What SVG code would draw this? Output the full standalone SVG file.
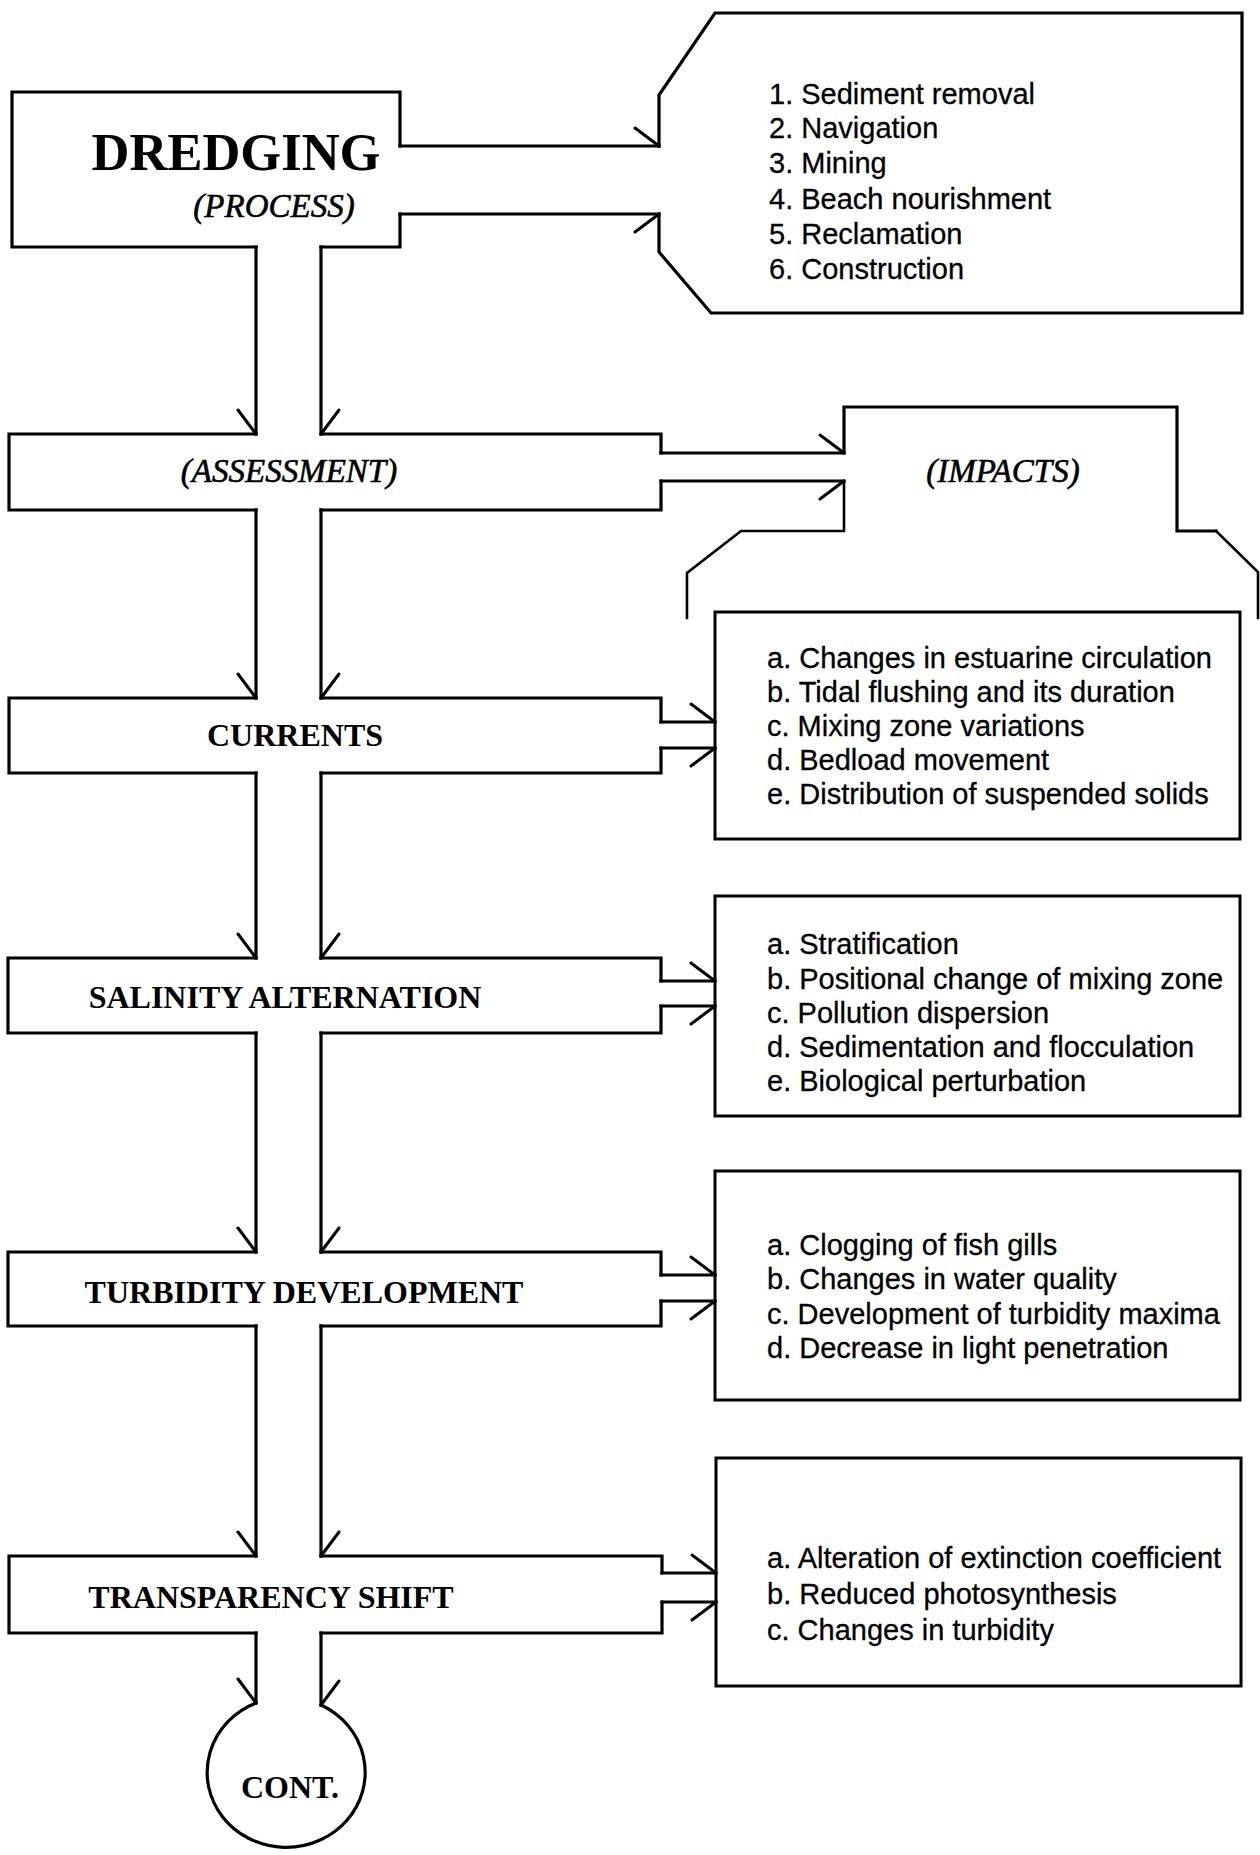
<svg xmlns="http://www.w3.org/2000/svg" width="1260" height="1855" viewBox="0 0 1260 1855">
  <defs>
    <style>
      .ln{fill:none;stroke:#000;stroke-width:3.2;stroke-linejoin:miter;stroke-linecap:square}
      .lt{stroke-width:2.6}
      .box{fill:none;stroke:#000;stroke-width:3}
      .mk{fill:none;stroke:#000;stroke-width:3;stroke-linecap:round}
      .t-big{font-family:"Liberation Serif","Times New Roman",serif;font-weight:bold;font-size:52.5px;text-anchor:middle}
      .t-hd{font-family:"Liberation Serif","Times New Roman",serif;font-weight:bold;font-size:32px;text-anchor:middle}
      .t-it{font-family:"Liberation Serif","Times New Roman",serif;font-style:italic;font-size:33px;text-anchor:middle;stroke:#000;stroke-width:0.6}
      .t-ls{font-family:"Liberation Sans",Arial,Helvetica,sans-serif;font-size:29px;stroke:#000;stroke-width:0.3}
    </style>
    <!-- one-sided barbs: P on the +y side of the travel direction, N on the -y side -->
    <marker id="barbP" markerUnits="userSpaceOnUse" orient="auto" refX="0" refY="0" markerWidth="40" markerHeight="40" overflow="visible">
      <path class="mk" d="M-24,18 L0,0"/>
    </marker>
    <marker id="barbN" markerUnits="userSpaceOnUse" orient="auto" refX="0" refY="0" markerWidth="40" markerHeight="40" overflow="visible">
      <path class="mk" d="M-24,-18 L0,0"/>
    </marker>
  </defs>

  <rect width="1260" height="1855" fill="#fff"/>

  <!-- process node -->
  <g id="dredging">
    <path class="ln" d="M256,247 H12 V92 H400 V146 M400,214 V247 H321"/>
    <text class="t-big" x="236" y="170">DREDGING</text>
    <text class="t-it" x="274" y="217">(PROCESS)</text>
  </g>

  <!-- outcome list -->
  <g id="outcome">
    <path class="ln" d="M659,146 V95 L715,13 H1242 V313 H711 L659,252 V214"/>
    <text class="t-ls" x="769" y="104">1. Sediment removal</text>
    <text class="t-ls" x="769" y="138">2. Navigation</text>
    <text class="t-ls" x="769" y="173">3. Mining</text>
    <text class="t-ls" x="769" y="209">4. Beach nourishment</text>
    <text class="t-ls" x="769" y="244">5. Reclamation</text>
    <text class="t-ls" x="769" y="279">6. Construction</text>
  </g>

  <!-- assessment bar -->
  <g id="assessment">
    <path class="ln" d="M256,434 H9 V510 H256 M321,434 H661 V453 M661,481 V510 H321"/>
    <text class="t-it" x="289" y="482">(ASSESSMENT)</text>
  </g>

  <!-- impacts header -->
  <g id="impacts">
    <path class="ln" d="M844,453 V407 H1177 V531 H1216"/>
    <path class="ln lt" d="M1216,531 L1258,572 V618"/>
    <path class="ln lt" d="M844,481 V531 H741 L687,573 V618"/>
    <text class="t-it" x="1003" y="482">(IMPACTS)</text>
  </g>

  <!-- currents -->
  <g id="currents">
    <path class="ln" d="M256,698 H9 V773 H256 M321,698 H661 V722 M661,748 V773 H321"/>
    <text class="t-hd" x="295" y="746">CURRENTS</text>
  </g>
  <g id="currents-impacts">
    <rect class="box" x="715" y="612" width="525" height="227"/>
    <text class="t-ls" x="767" y="668">a. Changes in estuarine circulation</text>
    <text class="t-ls" x="767" y="702">b. Tidal flushing and its duration</text>
    <text class="t-ls" x="767" y="736">c. Mixing zone variations</text>
    <text class="t-ls" x="767" y="770">d. Bedload movement</text>
    <text class="t-ls" x="767" y="804">e. Distribution of suspended solids</text>
  </g>

  <!-- salinity -->
  <g id="salinity">
    <path class="ln" d="M256,958 H8 V1033 H256 M321,958 H661 V981 M661,1006 V1033 H321"/>
    <text class="t-hd" x="285" y="1008">SALINITY ALTERNATION</text>
  </g>
  <g id="salinity-impacts">
    <rect class="box" x="715" y="896" width="525" height="220"/>
    <text class="t-ls" x="767" y="954">a. Stratification</text>
    <text class="t-ls" x="767" y="989">b. Positional change of mixing zone</text>
    <text class="t-ls" x="767" y="1023">c. Pollution dispersion</text>
    <text class="t-ls" x="767" y="1057">d. Sedimentation and flocculation</text>
    <text class="t-ls" x="767" y="1091">e. Biological perturbation</text>
  </g>

  <!-- turbidity -->
  <g id="turbidity">
    <path class="ln" d="M256,1252 H8 V1326 H256 M321,1252 H661 V1275 M661,1301 V1326 H321"/>
    <text class="t-hd" x="304" y="1303">TURBIDITY DEVELOPMENT</text>
  </g>
  <g id="turbidity-impacts">
    <rect class="box" x="715" y="1171" width="525" height="229"/>
    <text class="t-ls" x="767" y="1255">a. Clogging of fish gills</text>
    <text class="t-ls" x="767" y="1289">b. Changes in water quality</text>
    <text class="t-ls" x="767" y="1324">c. Development of turbidity maxima</text>
    <text class="t-ls" x="767" y="1358">d. Decrease in light penetration</text>
  </g>

  <!-- transparency -->
  <g id="transparency">
    <path class="ln" d="M256,1556 H9 V1633 H256 M321,1556 H662 V1573 M662,1602 V1633 H321"/>
    <text class="t-hd" x="271" y="1608">TRANSPARENCY SHIFT</text>
  </g>
  <g id="transparency-impacts">
    <rect class="box" x="716" y="1458" width="525" height="228"/>
    <text class="t-ls" x="767" y="1568">a. Alteration of extinction coefficient</text>
    <text class="t-ls" x="767" y="1604">b. Reduced photosynthesis</text>
    <text class="t-ls" x="767" y="1640">c. Changes in turbidity</text>
  </g>

  <!-- continuation terminal, open at the top where the stem enters -->
  <g id="cont">
    <path class="ln" d="M321,1705 A79,75 0 1 1 256,1703"/>
    <text class="t-hd" x="290" y="1798">CONT.</text>
  </g>

  <!-- connectors: central double stem and side channels -->
  <g id="connectors" class="ln">
    <!-- outcome channel -->
    <path d="M400,146 H659" marker-end="url(#barbN)"/>
    <path d="M400,214 H659" marker-end="url(#barbP)"/>
    <!-- stem: dredging to assessment -->
    <path d="M256,247 V434" marker-end="url(#barbP)"/>
    <path d="M321,247 V434" marker-end="url(#barbN)"/>
    <!-- assessment to impacts -->
    <path d="M661,453 H844" marker-end="url(#barbN)"/>
    <path d="M661,481 H844" marker-end="url(#barbP)"/>
    <!-- stem: assessment to currents -->
    <path d="M256,510 V698" marker-end="url(#barbP)"/>
    <path d="M321,510 V698" marker-end="url(#barbN)"/>
    <path d="M661,722 H715" marker-end="url(#barbN)"/>
    <path d="M661,748 H715" marker-end="url(#barbP)"/>
    <!-- stem: currents to salinity -->
    <path d="M256,773 V958" marker-end="url(#barbP)"/>
    <path d="M321,773 V958" marker-end="url(#barbN)"/>
    <path d="M661,981 H715" marker-end="url(#barbN)"/>
    <path d="M661,1006 H715" marker-end="url(#barbP)"/>
    <!-- stem: salinity to turbidity -->
    <path d="M256,1033 V1252" marker-end="url(#barbP)"/>
    <path d="M321,1033 V1252" marker-end="url(#barbN)"/>
    <path d="M661,1275 H715" marker-end="url(#barbN)"/>
    <path d="M661,1301 H715" marker-end="url(#barbP)"/>
    <!-- stem: turbidity to transparency -->
    <path d="M256,1326 V1556" marker-end="url(#barbP)"/>
    <path d="M321,1326 V1556" marker-end="url(#barbN)"/>
    <path d="M662,1573 H716" marker-end="url(#barbN)"/>
    <path d="M662,1602 H716" marker-end="url(#barbP)"/>
    <!-- stem: transparency to continuation -->
    <path d="M256,1633 V1703" marker-end="url(#barbP)"/>
    <path d="M321,1633 V1705" marker-end="url(#barbN)"/>
  </g>
</svg>
